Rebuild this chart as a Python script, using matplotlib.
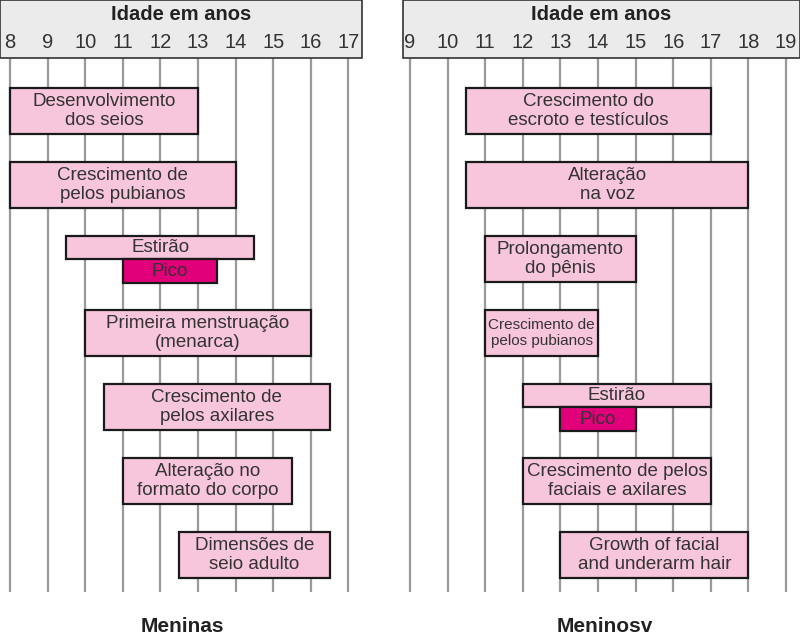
import matplotlib.pyplot as plt
from matplotlib.patches import Rectangle

plt.rcParams['font.family'] = ['Liberation Sans', 'DejaVu Sans']

# Meninas
girls_labels = ["Desenvolvimento\ndos seios", "Crescimento de\npelos pubianos", "Estirão",
                "Primeira menstruação\n(menarca)", "Crescimento de\npelos axilares",
                "Alteração no\nformato do corpo", "Dimensões de\nseio adulto"]
girls_start = [8, 8, 9.5, 10, 10.5, 11, 12.5]
girls_end = [13, 14, 14.5, 16, 16.5, 15.5, 16.5]
girls_peak = (2, 11, 13.5)  # linha, início, fim

# Meninos
boys_labels = ["Crescimento do\nescroto e testículos", "Alteração\nna voz",
               "Prolongamento\ndo pênis", "Crescimento de\npelos pubianos", "Estirão",
               "Crescimento de pelos\nfaciais e axilares", "Growth of facial\nand underarm hair"]
boys_start = [10.5, 10.5, 11, 11, 12, 12, 13]
boys_end = [17, 18, 15, 14, 17, 17, 18]
boys_peak = (4, 13, 15)

girls_ticks = list(range(8, 18))
boys_ticks = list(range(9, 20))

PINK = '#f7c6dc'
MAGENTA = '#e2007a'
EDGE = '#1a1a1a'
GRID = '#9a9a9a'
TXT = '#333333'

W, H = 800, 641
fig = plt.figure(figsize=(W / 100, H / 100), dpi=100)


def panel(x0, x1, xlim, ticks, labels, starts, ends, peak, title, title_x, small=None):
    ax = fig.add_axes([x0 / W, (H - 592) / H, (x1 - x0) / W, 592 / H])
    ax.set_xlim(*xlim)
    ax.set_ylim(6.5, -1.5)
    ax.axis('off')
    head_bottom = -0.716
    # cabeçalho
    ax.add_patch(Rectangle((xlim[0], -1.5), xlim[1] - xlim[0], 1.5 + head_bottom,
                           facecolor='#ebebeb', edgecolor='#333333', lw=1.2, clip_on=False, zorder=1))
    ax.text((xlim[0] + xlim[1]) / 2, -1.31, "Idade em anos", ha='center', va='center',
            fontsize=14.5, fontweight='bold', color='#222222')
    for t in ticks:
        ax.text(t, -0.93, str(t), ha='center', va='center', fontsize=14.5, color=TXT)
        ax.plot([t, t], [head_bottom, 6.5], color=GRID, lw=1.6, zorder=0)
    for i, (lab, s, e) in enumerate(zip(labels, starts, ends)):
        if i == peak[0]:
            ax.add_patch(Rectangle((s, i - 0.31), e - s, 0.31, facecolor=PINK,
                                   edgecolor=EDGE, lw=1.6, zorder=2))
            ax.text((s + e) / 2, i - 0.15, lab, ha='center', va='center', fontsize=13.5,
                    color=TXT, zorder=3)
            ps, pe = peak[1], peak[2]
            ax.add_patch(Rectangle((ps, i), pe - ps, 0.32, facecolor=MAGENTA,
                                   edgecolor=EDGE, lw=1.6, zorder=2))
            ax.text((ps + pe) / 2, i + 0.17, "Pico", ha='center', va='center', fontsize=13.5,
                    color=TXT, zorder=3)
        else:
            ax.add_patch(Rectangle((s, i - 0.31), e - s, 0.62, facecolor=PINK,
                                   edgecolor=EDGE, lw=1.6, zorder=2))
            if small is not None and i == small:
                ax.text((s + e) / 2, i, lab, ha='center', va='center', fontsize=11,
                        color=TXT, linespacing=1.2, zorder=3)
            else:
                ax.text((s + e) / 2, i, lab, ha='center', va='center', fontsize=13.5,
                        color=TXT, linespacing=1.2, zorder=3)
    fig.text(title_x / W, 1 - 627 / H, title, ha='center', va='center',
             fontsize=15, fontweight='bold', color='#222222')


panel(0, 362, (7.734, 17.36), girls_ticks, girls_labels, girls_start, girls_end,
      girls_peak, "Meninas", 182)
panel(403, 800, (8.814, 19.37), boys_ticks, boys_labels, boys_start, boys_end,
      boys_peak, "Meninosv", 605, small=3)

fig.savefig('out.png', dpi=100, facecolor='white')
